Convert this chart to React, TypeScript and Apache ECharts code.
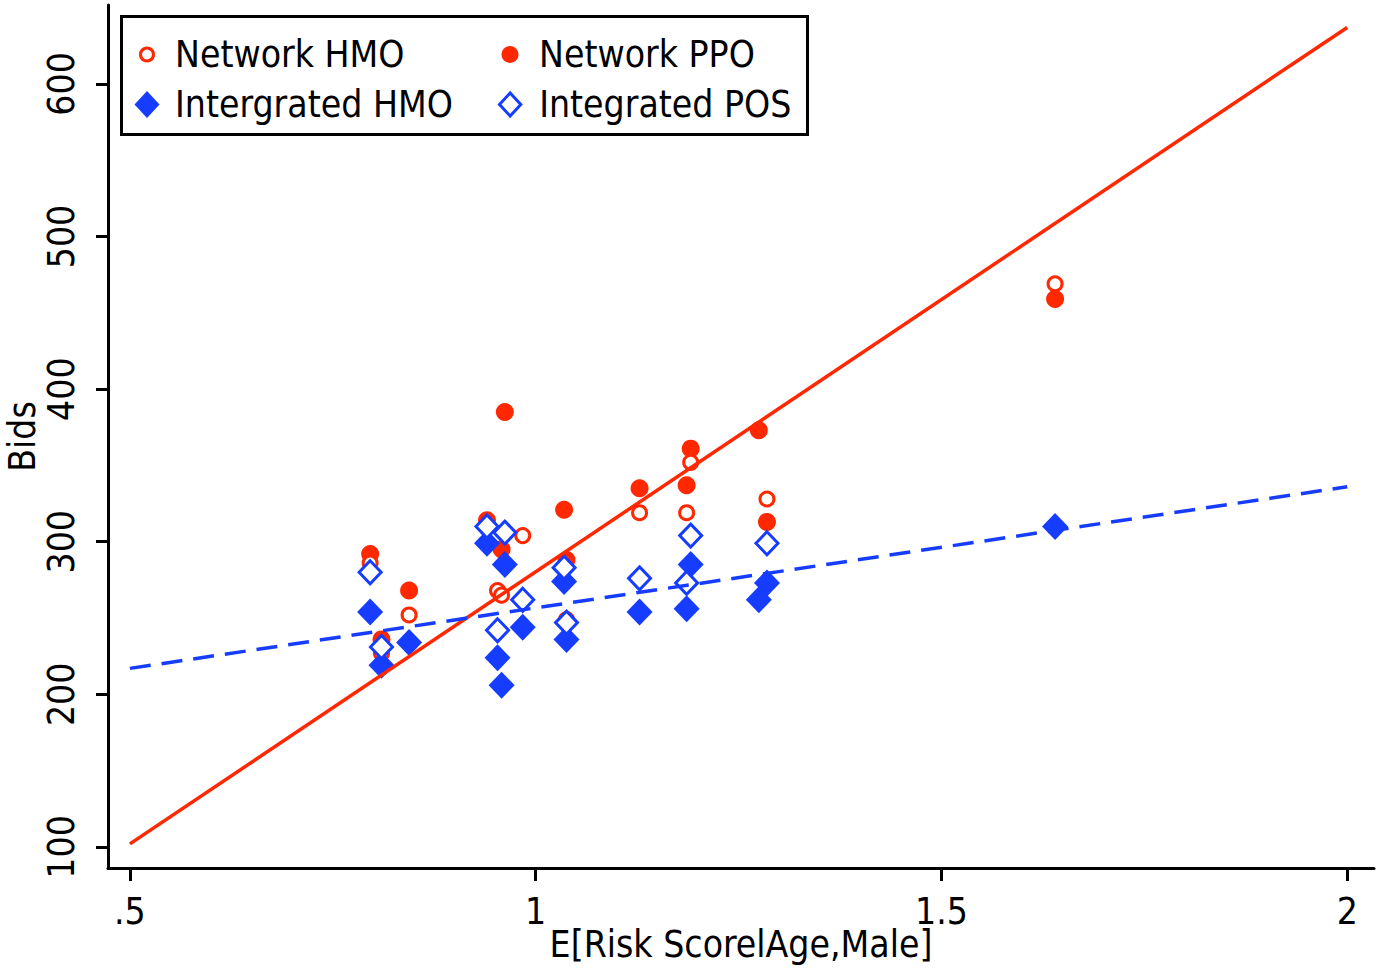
import React, { useEffect, useRef } from 'react';
import * as echarts from 'echarts';

// ---- data ----
const networkHmo: [number, number][] = [
  [0.796, 286], [0.810, 227], [0.844, 252], [0.940, 312], [0.953, 268],
  [0.958, 265], [0.984, 304], [1.038, 249], [1.128, 319], [1.186, 319],
  [1.191, 352], [1.285, 328], [1.640, 469],
];
const networkPpo: [number, number][] = [
  [0.796, 292], [0.810, 236], [0.844, 268], [0.940, 314], [0.958, 295],
  [0.962, 385], [1.035, 321], [1.038, 288], [1.128, 335], [1.186, 337],
  [1.191, 361], [1.275, 373], [1.285, 313], [1.640, 459],
];
const integratedHmo: [number, number][] = [
  [0.796, 254], [0.810, 219], [0.844, 234], [0.940, 299], [0.953, 224],
  [0.958, 206], [0.962, 285], [0.984, 244], [1.035, 274], [1.038, 236],
  [1.128, 254], [1.186, 256], [1.191, 285], [1.275, 262], [1.285, 273],
  [1.640, 310],
];
const integratedPos: [number, number][] = [
  [0.796, 280], [0.810, 231], [0.940, 310], [0.962, 306], [0.953, 242],
  [0.984, 262], [1.035, 283], [1.038, 247], [1.128, 276], [1.186, 273],
  [1.191, 304], [1.285, 299],
];
const networkFit: [number, number][] = [[0.5, 102], [2.0, 637]];
const integratedFit: [number, number][] = [[0.5, 217], [2.0, 336]];

const xTicks = [0.5, 1, 1.5, 2];
const yTicks = [100, 200, 300, 400, 500, 600];
const seriesNames = ['Network HMO', 'Network PPO', 'Intergrated HMO', 'Integrated POS'];

const RED = '#ff2800';
const BLUE = '#153cff';
const FONT = "'DejaVu Sans Condensed', 'DejaVu Sans', sans-serif";
const DIAMOND = 'path://M12.5,0L25,13.5L12.5,27L0,13.5Z';

export default function App() {
  const ref = useRef<HTMLDivElement>(null);
  useEffect(() => {
    if (!ref.current) return;
    const chart = echarts.init(ref.current, null, { renderer: 'svg' });
    const legendText = { fontSize: 37, color: '#000', fontFamily: FONT };
    const mkLegend = (name: string, left: number, top: number, w: number, h: number, icon: string, bw: number) => ({
      show: true,
      data: [{ name, icon }],
      left,
      top,
      padding: 0,
      itemWidth: w,
      itemHeight: h,
      itemGap: 0,
      selectedMode: false,
      textStyle: legendText,
      itemStyle: { borderWidth: bw },
      z: 10,
    });
    chart.setOption({
      animation: false,
      backgroundColor: '#fff',
      grid: { left: 108, right: 4, top: 5, bottom: 103, containLabel: false, outerBoundsMode: 'none' },
      xAxis: {
        type: 'value',
        min: 0.473,
        max: 2.033,
        name: 'E[Risk ScorelAge,Male]',
        nameLocation: 'middle',
        nameGap: 58,
        nameMoveOverlap: false,
        nameTextStyle: { fontSize: 37, color: '#000', fontFamily: FONT },
        axisLine: { show: true, onZero: false, lineStyle: { color: '#000', width: 3 } },
        axisTick: { show: true, length: 13, lineStyle: { color: '#000', width: 3 }, customValues: xTicks },
        axisLabel: {
          fontSize: 37, color: '#000', fontFamily: FONT, margin: 25,
          customValues: xTicks,
          formatter: (v: number) => (v === 0.5 ? '.5' : String(v)),
        },
        splitLine: { show: false },
      },
      yAxis: {
        type: 'value',
        min: 86.2,
        max: 651.7,
        name: 'Bids',
        nameLocation: 'middle',
        nameGap: 67,
        nameMoveOverlap: false,
        nameTextStyle: { fontSize: 37, color: '#000', fontFamily: FONT },
        axisLine: { show: true, onZero: false, lineStyle: { color: '#000', width: 3 } },
        axisTick: { show: true, length: 12, lineStyle: { color: '#000', width: 3 }, customValues: yTicks },
        axisLabel: {
          fontSize: 37, color: '#000', fontFamily: FONT, margin: 28, rotate: 90,
          customValues: yTicks,
        },
        splitLine: { show: false },
      },
      legend: [
        mkLegend(seriesNames[0], 139, 36, 46, 13, 'circle', 3),
        mkLegend(seriesNames[1], 501.5, 36, 48, 17, 'circle', 0),
        mkLegend(seriesNames[2], 134.5, 86, 46, 27, DIAMOND, 0),
        mkLegend(seriesNames[3], 498, 86, 48, 23, DIAMOND, 3),
      ],
      graphic: [
        {
          type: 'rect',
          shape: { x: 121.5, y: 16.5, width: 686, height: 118 },
          style: { fill: '#fff', stroke: '#000', lineWidth: 3 },
          z: 5,
        },
      ],
      series: [
        {
          name: seriesNames[1], type: 'scatter', data: networkPpo,
          symbol: 'circle', symbolSize: 18,
          itemStyle: { color: RED, borderWidth: 0, opacity: 1 },
          z: 2,
        },
        {
          name: seriesNames[0], type: 'scatter', data: networkHmo,
          symbol: 'circle', symbolSize: 14,
          itemStyle: { color: '#fff', borderColor: RED, borderWidth: 3, opacity: 1 },
          z: 2,
        },
        {
          name: seriesNames[2], type: 'scatter', data: integratedHmo,
          symbol: 'diamond', symbolSize: [26, 27],
          itemStyle: { color: BLUE, borderWidth: 0, opacity: 1 },
          z: 2,
        },
        {
          name: seriesNames[3], type: 'scatter', data: integratedPos,
          symbol: 'diamond', symbolSize: [22, 23],
          itemStyle: { color: '#fff', borderColor: BLUE, borderWidth: 3, opacity: 1 },
          z: 2,
        },
        {
          name: 'Network fit', type: 'line', data: networkFit,
          showSymbol: false, symbol: 'none',
          lineStyle: { color: RED, width: 3.5 },
          z: 3,
        },
        {
          name: 'Integrated fit', type: 'line', data: integratedFit,
          showSymbol: false, symbol: 'none',
          lineStyle: { color: BLUE, width: 3.5, type: [21, 11] },
          z: 3,
        },
      ],
    });
    return () => chart.dispose();
  }, []);
  return (
    <div
      ref={ref}
      style={{ position: 'fixed', left: 0, top: 0, width: 1378, height: 971, background: '#fff' }}
    />
  );
}
